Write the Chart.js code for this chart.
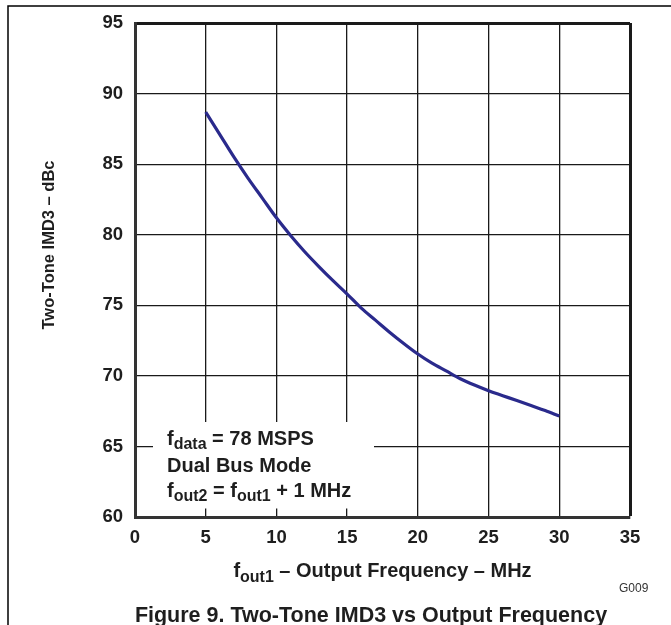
<!DOCTYPE html>
<html>
<head>
<meta charset="utf-8">
<script src="https://cdn.jsdelivr.net/npm/chart.js@4/dist/chart.umd.min.js"></script>
<style>
  html, body { margin: 0; padding: 0; background: #fff; }
  #wrap { width: 671px; height: 625px; position: relative; }
</style>
</head>
<body>
<div id="wrap"><canvas id="c" width="671" height="625"></canvas></div>
<script>
// ---- data ----
const freqMHz = [5, 6, 7, 8, 9, 10, 11, 12, 13, 14, 15, 16, 17, 18, 19, 20, 21, 22, 23, 24, 25, 26, 27, 28, 29, 30];
const imd3dBc = [88.7, 87.1, 85.5, 84.0, 82.6, 81.2, 79.95, 78.8, 77.75, 76.75, 75.8, 74.8, 73.95, 73.1, 72.3, 71.55, 70.9, 70.35, 69.8, 69.35, 68.95, 68.6, 68.25, 67.9, 67.55, 67.15];
const xTicks = [0, 5, 10, 15, 20, 25, 30, 35];
const yTicks = [60, 65, 70, 75, 80, 85, 90, 95];
const xTitleParts = [["f", false], ["out1", true], [" \u2013 Output Frequency \u2013 MHz", false]];
const yTitle = "Two-Tone IMD3 \u2013 dBc";
const figTitle = "Figure 9. Two-Tone IMD3 vs Output Frequency";
const graphId = "G009";
const noteLines = [
  [["f", false], ["data", true], [" = 78 MSPS", false]],
  [["Dual Bus Mode", false]],
  [["f", false], ["out2", true], [" = f", false], ["out1", true], [" + 1 MHz", false]]
];

const FAM = '"Liberation Sans", Arial, Helvetica, sans-serif';
const TXT = '#1e1e1e';

function drawParts(ctx, parts, x, y, mainPx, subPx, subDy, align) {
  const fMain = 'bold ' + mainPx + 'px ' + FAM;
  const fSub = 'bold ' + subPx + 'px ' + FAM;
  let total = 0;
  for (const [t, sub] of parts) { ctx.font = sub ? fSub : fMain; total += ctx.measureText(t).width; }
  let cx = align === 'center' ? x - total / 2 : x;
  ctx.textAlign = 'left';
  ctx.textBaseline = 'alphabetic';
  for (const [t, sub] of parts) {
    ctx.font = sub ? fSub : fMain;
    ctx.fillText(t, cx, sub ? y + subDy : y);
    cx += ctx.measureText(t).width;
  }
}

const decor = {
  id: 'decor',
  beforeDatasetsDraw(chart) {
    const ctx = chart.ctx;
    ctx.save();
    // white box behind the annotation (interrupts grid lines)
    ctx.fillStyle = '#fff';
    ctx.fillRect(153, 422, 221, 86.5);
    ctx.restore();
  },
  afterDraw(chart) {
    const ctx = chart.ctx;
    const area = chart.chartArea;
    ctx.save();
    // outer frame (top and left)
    ctx.strokeStyle = '#000';
    ctx.lineWidth = 1.5;
    ctx.beginPath();
    ctx.moveTo(671, 6); ctx.lineTo(8, 6); ctx.lineTo(8, 625);
    ctx.stroke();

    ctx.fillStyle = TXT;
    // annotation
    const noteY = [445, 471.5, 497];
    noteLines.forEach((ln, i) => drawParts(ctx, ln, 167, noteY[i], 20, 16, 4, 'left'));

    // x title
    drawParts(ctx, xTitleParts, (area.left + area.right) / 2, 577, 20, 16, 4.5, 'center');

    // y title
    ctx.save();
    ctx.translate(53.5, 245);
    ctx.rotate(-Math.PI / 2);
    ctx.font = 'bold 16.5px ' + FAM;
    ctx.textAlign = 'center';
    ctx.textBaseline = 'alphabetic';
    ctx.fillText(yTitle, 0, 0);
    ctx.restore();

    // graph id
    ctx.font = '12px ' + FAM;
    ctx.fillStyle = '#333';
    ctx.textAlign = 'left';
    ctx.fillText(graphId, 619, 591.5);

    // figure title
    ctx.fillStyle = TXT;
    ctx.font = 'bold 21.5px ' + FAM;
    ctx.textAlign = 'center';
    ctx.fillText(figTitle, 371, 621.5);
    ctx.restore();
  }
};

const ctx = document.getElementById('c').getContext('2d');
new Chart(ctx, {
  type: 'line',
  data: {
    datasets: [{
      data: freqMHz.map((x, i) => ({ x: x, y: imd3dBc[i] })),
      borderColor: '#2a2a8c',
      borderWidth: 3.2,
      pointRadius: 0,
      fill: false,
      cubicInterpolationMode: 'monotone'
    }]
  },
  options: {
    responsive: false,
    animation: false,
    devicePixelRatio: 1,
    layout: { padding: { top: 22, right: 41, left: 0, bottom: 0 } },
    plugins: { legend: { display: false }, tooltip: { enabled: false }, title: { display: false } },
    scales: {
      x: {
        type: 'linear',
        min: xTicks[0], max: xTicks[xTicks.length - 1],
        afterBuildTicks: (s) => { s.ticks = xTicks.map(v => ({ value: v })); },
        afterFit: (s) => { s.height = 108; },
        ticks: {
          padding: 10,
          color: TXT,
          font: { family: FAM, size: 18.5, weight: 'bold' },
          callback: (v) => String(v)
        },
        grid: {
          drawTicks: false,
          color: '#1a1a1a',
          lineWidth: (c) => (c.tick && c.tick.value === 35 ? 3 : 1.3)
        },
        border: { display: true, color: '#333', width: 3 }
      },
      y: {
        type: 'linear',
        min: yTicks[0], max: yTicks[yTicks.length - 1],
        afterBuildTicks: (s) => { s.ticks = yTicks.map(v => ({ value: v })); },
        afterFit: (s) => { s.width = 135; },
        ticks: {
          padding: 12,
          color: TXT,
          font: { family: FAM, size: 18.5, weight: 'bold' },
          callback: (v) => String(v)
        },
        grid: {
          drawTicks: false,
          color: '#1a1a1a',
          lineWidth: (c) => (c.tick && c.tick.value === 95 ? 3 : 1.3)
        },
        border: { display: true, color: '#333', width: 3 }
      }
    }
  },
  plugins: [decor]
});
</script>
</body>
</html>
